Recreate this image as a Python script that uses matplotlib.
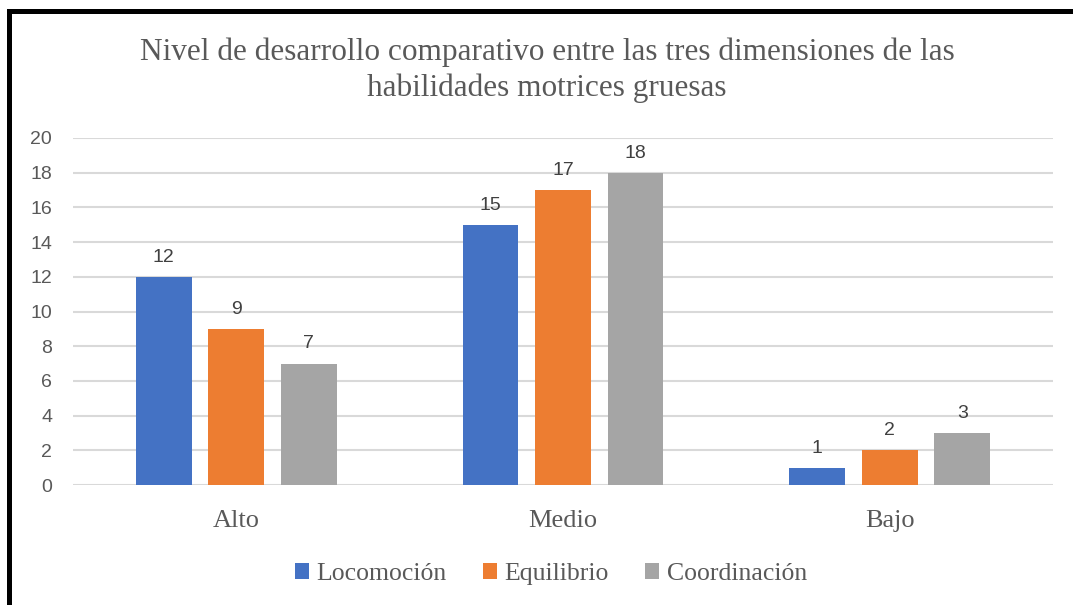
import numpy as np
from matplotlib import pyplot as plt
from matplotlib.patches import Rectangle

categories = ['Alto', 'Medio', 'Bajo']
series_names = ['Locomoción', 'Equilibrio', 'Coordinación']
locomocion = [12, 15, 1]
equilibrio = [9, 17, 2]
coordinacion = [7, 18, 3]
colors = ['#4472c4', '#ed7d31', '#a5a5a5']
title = 'Nivel de desarrollo comparativo entre las tres dimensiones de las\nhabilidades motrices gruesas'

W, H = 1073, 605
fig = plt.figure(figsize=(W / 100, H / 100), dpi=100)
ax = fig.add_axes([73 / W, 1 - 485 / H, 980 / W, 347 / H])

x = np.arange(len(categories))
width = 0.171
step = 0.222
for i, (vals, name) in enumerate(zip([locomocion, equilibrio, coordinacion], series_names)):
    bars = ax.bar(x + (i - 1) * step, vals, width, color=colors[i], label=name, zorder=3)
    ax.bar_label(bars, padding=8, fontsize=14, color='#404040', family='Liberation Sans')

ax.set_xlim(-0.5, 2.5)
ax.set_ylim(0, 20)
ax.set_yticks(range(0, 21, 2))
ax.set_xticks(x)
ax.set_xticklabels(categories, family='Liberation Serif', fontsize=19, color='#595959')
ax.tick_params(axis='x', length=0, pad=18)
ax.tick_params(axis='y', length=0, pad=15, labelsize=14, labelcolor='#595959')
for lab in ax.get_yticklabels():
    lab.set_family('Liberation Sans')
ax.grid(axis='y', color='#d9d9d9', linewidth=1.5, zorder=0)
for s in ax.spines.values():
    s.set_visible(False)

fig.text(547 / W, 1 - 70 / H, title, ha='center', va='center', family='Liberation Serif',
         fontsize=22.5, color='#595959', linespacing=1.28)

leg = fig.legend(loc='center', bbox_to_anchor=(551 / W, 1 - 574 / H), ncol=3, frameon=False,
                 prop={'family': 'Liberation Serif', 'size': 18.5}, handlelength=0.55,
                 handleheight=0.55, handletextpad=0.3, columnspacing=1.4)
for t in leg.get_texts():
    t.set_color('#595959')

# black frame on top and left
fig.add_artist(Rectangle((7 / W, 1 - 14 / H), 1 - 7 / W, 5 / H, transform=fig.transFigure,
                         color='black', lw=0))
fig.add_artist(Rectangle((7 / W, 0), 5 / W, 1 - 9 / H, transform=fig.transFigure,
                         color='black', lw=0))

fig.savefig('out.png', dpi=100)
